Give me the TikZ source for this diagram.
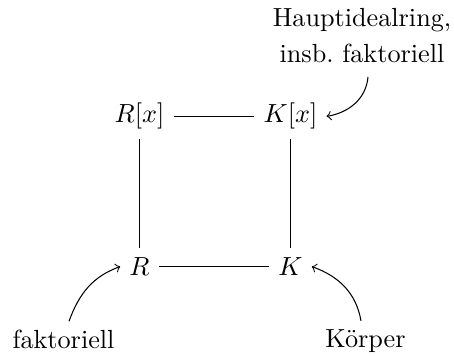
\documentclass[tikz,border=0pt]{standalone}
\usetikzlibrary{calc}
\begin{document}
\begin{tikzpicture}[x=0.38168pt, y=0.38168pt,
  obj/.style={anchor=base, inner sep=3.333pt},
  lbl/.style={inner sep=3.333pt},
  link/.style={line width=0.4pt},
  callout/.style={->, line width=0.4pt}]
\useasboundingbox (0,0) rectangle (454,-356);
\node[obj] (Rx) at (139.5,-123) {$R[x]$};
\node[obj] (Kx) at (290.5,-123) {$K[x]$};
\node[obj] (R) at (139.5,-275.5) {$R$};
\node[obj] (K) at (290.5,-275.5) {$K$};
\draw[link] (Rx) -- (Kx);
\draw[link] (R) -- (K);
\draw[link] (Rx) -- (R);
\draw[link] (Kx) -- (K);
\node[lbl, align=center, anchor=north] (h) at (362,0.9) {Hauptidealring,\\[1.7pt] insb.\ faktoriell};
\node[lbl, anchor=base] (f) at (63.5,-349) {faktoriell};
\node[lbl, anchor=base] (k) at (365.5,-348) {Körper};
\draw[callout] ($(h.south)+(6,-5)$) to[out=265,in=10] (Kx.east);
\draw[callout] ($(f.north)+(5.5,0)$) to[out=70,in=200] (R.west);
\draw[callout] ($(k.north)+(-4.5,0)$) to[out=100,in=340] (K.east);
\end{tikzpicture}
\end{document}
